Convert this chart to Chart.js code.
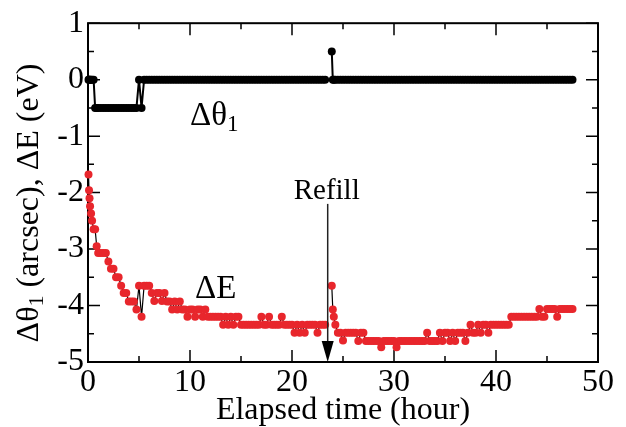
<!DOCTYPE html>
<html>
<head>
<meta charset="utf-8">
<script src="https://cdn.jsdelivr.net/npm/chart.js@4"></script>
<style>
  html, body { margin: 0; padding: 0; background: #fff; }
</style>
</head>
<body>
<canvas id="mainChart" width="626" height="427"></canvas>
<script>
// elapsed time of each sample (hour)
const hours = [
  0.05, 0.1, 0.15, 0.2, 0.3, 0.4, 0.55, 0.7, 0.85, 1,
  1.25, 1.5, 1.75, 2, 2.25, 2.5, 2.75, 3,
  3.25, 3.5, 3.75, 4, 4.25, 4.5, 4.75, 5,
  5.25, 5.5, 5.75, 6, 6.25, 6.5, 6.75, 7,
  7.25, 7.5, 7.75, 8, 8.25, 8.5, 8.75, 9,
  9.25, 9.5, 9.75, 10, 10.25, 10.5, 10.75, 11,
  11.25, 11.5, 11.75, 12, 12.25, 12.5, 12.75, 13,
  13.25, 13.5, 13.75, 14, 14.25, 14.5, 14.75, 15,
  15.25, 15.5, 15.75, 16, 16.25, 16.5, 16.75, 17,
  17.25, 17.5, 17.75, 18, 18.25, 18.5, 18.75, 19,
  19.25, 19.5, 19.75, 20, 20.25, 20.5, 20.75, 21,
  21.25, 21.5, 21.75, 22, 22.25, 22.5, 22.75, 23,
  23.25, 23.5, 23.9, 24, 24.1, 24.25, 24.5, 24.75,
  25, 25.25, 25.5, 25.75, 26, 26.25, 26.5, 26.75,
  27, 27.25, 27.5, 27.75, 28, 28.25, 28.5, 28.75,
  29, 29.25, 29.5, 29.75, 30, 30.25, 30.5, 30.75,
  31, 31.25, 31.5, 31.75, 32, 32.25, 32.5, 32.75,
  33, 33.25, 33.5, 33.75, 34, 34.25, 34.5, 34.75,
  35, 35.25, 35.5, 35.75, 36, 36.25, 36.5, 36.75,
  37, 37.25, 37.5, 37.75, 38, 38.25, 38.5, 38.75,
  39, 39.25, 39.5, 39.75, 40, 40.25, 40.5, 40.75,
  41, 41.25, 41.5, 41.75, 42, 42.25, 42.5, 42.75,
  43, 43.25, 43.5, 43.75, 44, 44.25, 44.5, 44.75,
  45, 45.25, 45.5, 45.75, 46, 46.25, 46.5, 46.75,
  47, 47.25, 47.5
];

// Δθ1 (arcsec); null = refill gap
const dTheta = [
  0, 0, 0, 0, 0, 0, 0, -0.5, -0.5, -0.5,
  -0.5, -0.5, -0.5, -0.5, -0.5, -0.5, -0.5, -0.5,
  -0.5, -0.5, -0.5, -0.5, -0.5, -0.5, -0.5, 0,
  -0.5, 0, 0, 0, 0, 0, 0, 0,
  0, 0, 0, 0, 0, 0, 0, 0,
  0, 0, 0, 0, 0, 0, 0, 0,
  0, 0, 0, 0, 0, 0, 0, 0,
  0, 0, 0, 0, 0, 0, 0, 0,
  0, 0, 0, 0, 0, 0, 0, 0,
  0, 0, 0, 0, 0, 0, 0, 0,
  0, 0, 0, 0, 0, 0, 0, 0,
  0, 0, 0, 0, 0, 0, 0, 0,
  0, null, 0.5, 0, 0, 0, 0, 0,
  0, 0, 0, 0, 0, 0, 0, 0,
  0, 0, 0, 0, 0, 0, 0, 0,
  0, 0, 0, 0, 0, 0, 0, 0,
  0, 0, 0, 0, 0, 0, 0, 0,
  0, 0, 0, 0, 0, 0, 0, 0,
  0, 0, 0, 0, 0, 0, 0, 0,
  0, 0, 0, 0, 0, 0, 0, 0,
  0, 0, 0, 0, 0, 0, 0, 0,
  0, 0, 0, 0, 0, 0, 0, 0,
  0, 0, 0, 0, 0, 0, 0, 0,
  0, 0, 0, 0, 0, 0, 0, 0,
  0, 0, 0
];

// ΔE (eV)
const dEnergy = [
  -1.68, -1.96, -2.1, -2.24, -2.37, -2.5, -2.65, -2.65, -2.95, -3.07,
  -3.07, -3.07, -3.07, -3.22, -3.35, -3.35, -3.5, -3.5,
  -3.65, -3.78, -3.78, -3.93, -3.93, -3.93, -4.07, -3.65,
  -4.2, -3.65, -3.65, -3.65, -3.78, -3.92, -3.78, -3.78,
  -3.92, -3.78, -3.93, -3.93, -4.07, -3.93, -4.07, -3.93,
  -4.07, -4.07, -4.2, -4.07, -4.07, -4.2, -4.07, -4.07,
  -4.2, -4.07, -4.2, -4.2, -4.2, -4.2, -4.2, -4.2,
  -4.34, -4.2, -4.34, -4.2, -4.34, -4.2, -4.2, -4.34,
  -4.34, -4.34, -4.34, -4.34, -4.34, -4.34, -4.34, -4.2,
  -4.34, -4.34, -4.2, -4.34, -4.34, -4.34, -4.34, -4.2,
  -4.34, -4.34, -4.34, -4.34, -4.48, -4.34, -4.48, -4.34,
  -4.48, -4.34, -4.34, -4.34, -4.34, -4.48, -4.34, -4.34,
  -4.34, null, -3.65, -4.07, -4.2, -4.34, -4.48, -4.48,
  -4.62, -4.48, -4.48, -4.48, -4.48, -4.48, -4.63, -4.48,
  -4.48, -4.63, -4.63, -4.63, -4.63, -4.63, -4.63, -4.74,
  -4.63, -4.63, -4.63, -4.63, -4.63, -4.74, -4.63, -4.63,
  -4.63, -4.63, -4.63, -4.63, -4.63, -4.63, -4.63, -4.63,
  -4.63, -4.48, -4.63, -4.63, -4.63, -4.63, -4.48, -4.63,
  -4.48, -4.48, -4.63, -4.48, -4.63, -4.48, -4.48, -4.48,
  -4.63, -4.48, -4.34, -4.48, -4.48, -4.34, -4.48, -4.34,
  -4.34, -4.48, -4.34, -4.34, -4.34, -4.34, -4.34, -4.34,
  -4.34, -4.34, -4.2, -4.2, -4.2, -4.2, -4.2, -4.2,
  -4.2, -4.2, -4.2, -4.2, -4.2, -4.06, -4.2, -4.2,
  -4.06, -4.06, -4.06, -4.06, -4.2, -4.06, -4.06, -4.06,
  -4.06, -4.06, -4.06
];

const refillHour = 23.5;
const serif = "'Liberation Serif', 'Times New Roman', serif";

// frame with inward major/minor ticks on all four sides
const frame = {
  id: "frame",
  beforeDatasetsDraw(chart) {
    const { ctx, chartArea: a, scales: { x, y } } = chart;
    ctx.save();
    ctx.strokeStyle = "#000";
    ctx.lineWidth = 1.5;
    ctx.beginPath();
    for (let v = x.min; v <= x.max; v += 5) {
      const px = x.getPixelForValue(v);
      const len = v % 10 === 0 ? 12 : 6;
      ctx.moveTo(px, a.bottom); ctx.lineTo(px, a.bottom - len);
      ctx.moveTo(px, a.top); ctx.lineTo(px, a.top + len);
    }
    for (let v = y.min; v <= y.max; v += 0.5) {
      const py = y.getPixelForValue(v);
      const len = Number.isInteger(v) ? 12 : 6;
      ctx.moveTo(a.left, py); ctx.lineTo(a.left + len, py);
      ctx.moveTo(a.right, py); ctx.lineTo(a.right - len, py);
    }
    ctx.stroke();
    ctx.lineWidth = 2;
    ctx.strokeRect(a.left, a.top, a.right - a.left, a.bottom - a.top);
    ctx.restore();
  },
  afterDatasetsDraw(chart) {
    const { ctx, scales: { x, y } } = chart;
    ctx.save();
    ctx.fillStyle = "#000";
    ctx.textBaseline = "alphabetic";

    // Δθ1 label
    let px = x.getPixelForValue(10.0), py = y.getPixelForValue(-0.8);
    ctx.font = "33px " + serif;
    ctx.fillText("Δθ", px, py);
    const w = ctx.measureText("Δθ").width;
    ctx.font = "23px " + serif;
    ctx.fillText("1", px + w, py + 6);

    // ΔE label
    ctx.font = "33px " + serif;
    ctx.fillText("ΔE", x.getPixelForValue(10.5), y.getPixelForValue(-3.87));

    // refill arrow
    const ax = x.getPixelForValue(refillHour);
    ctx.font = "29px " + serif;
    ctx.textAlign = "center";
    ctx.fillText("Refill", ax - 1, y.getPixelForValue(-2.12));
    const y0 = y.getPixelForValue(-2.2), y1 = y.getPixelForValue(-5);
    ctx.strokeStyle = "#222";
    ctx.lineWidth = 1.5;
    ctx.beginPath();
    ctx.moveTo(ax, y0); ctx.lineTo(ax, y1 - 18);
    ctx.stroke();
    ctx.beginPath();
    ctx.moveTo(ax - 6, y1 - 21); ctx.lineTo(ax + 6, y1 - 21); ctx.lineTo(ax, y1);
    ctx.closePath();
    ctx.fill();

    // y axis title with subscript
    ctx.translate(30, 203);
    ctx.rotate(-Math.PI / 2);
    ctx.textAlign = "left";
    ctx.textBaseline = "middle";
    const parts = [["Δθ", 32, 0], ["1", 22, 7], [" (arcsec), ΔE (eV)", 32, 0]];
    let total = 0;
    parts.forEach(p => { ctx.font = p[1] + "px " + serif; total += ctx.measureText(p[0]).width; });
    let cx = -total / 2;
    parts.forEach(p => {
      ctx.font = p[1] + "px " + serif;
      ctx.fillText(p[0], cx, p[2]);
      cx += ctx.measureText(p[0]).width;
    });
    ctx.restore();
  }
};

new Chart(document.getElementById("mainChart"), {
  type: "line",
  data: {
    datasets: [
      {
        label: "Δθ1",
        data: hours.map((h, i) => ({ x: h, y: dTheta[i] })),
        borderColor: "#000",
        borderWidth: 2,
        pointRadius: 4,
        pointBorderWidth: 0,
        pointBackgroundColor: "#000",
        clip: false
      },
      {
        label: "ΔE",
        data: hours.map((h, i) => ({ x: h, y: dEnergy[i] })),
        borderColor: "#000",
        borderWidth: 1.2,
        pointRadius: 4,
        pointBorderWidth: 0,
        pointBackgroundColor: "#e8262c",
        clip: false
      }
    ]
  },
  options: {
    responsive: false,
    animation: false,
    layout: { padding: { top: 22, right: 28, left: 0, bottom: 0 } },
    elements: { line: { tension: 0 } },
    plugins: { legend: { display: false }, tooltip: { enabled: false } },
    scales: {
      x: {
        type: "linear", min: 0, max: 50,
        afterFit: s => { s.height = 65; },
        grid: { display: false, drawTicks: false },
        border: { display: false },
        ticks: { stepSize: 10, padding: 1, color: "#000", maxRotation: 0, autoSkip: false,
                 font: { family: serif, size: 32 } },
        title: { display: true, text: "Elapsed time (hour)", color: "#000",
                 padding: { top: 0, bottom: -3 }, font: { family: serif, size: 32 } }
      },
      y: {
        type: "linear", min: -5, max: 1,
        afterFit: s => { s.width = 88; },
        grid: { display: false, drawTicks: false },
        border: { display: false },
        ticks: { stepSize: 1, padding: 4, color: "#000", autoSkip: false,
                 font: { family: serif, size: 32 } }
      }
    }
  },
  plugins: [frame]
});
</script>
</body>
</html>
